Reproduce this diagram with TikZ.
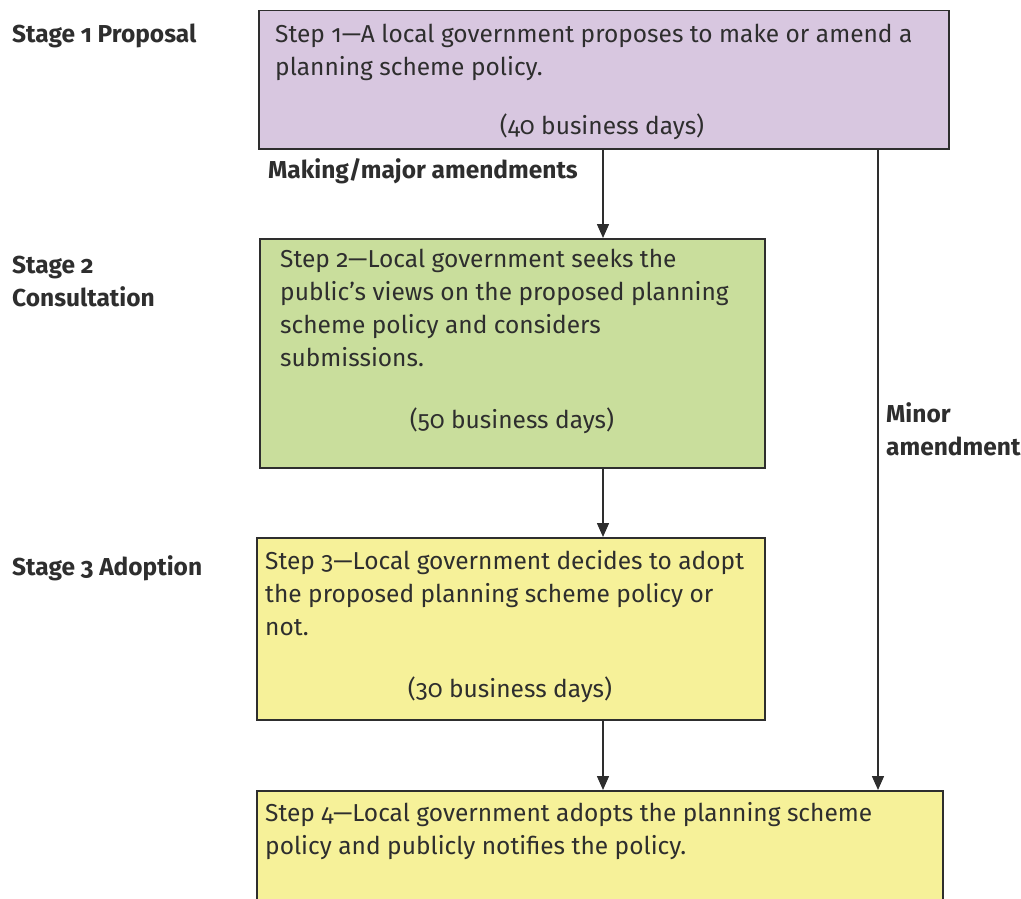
\documentclass[tikz,border=0pt]{standalone}
\usepackage{fontspec}
\setmainfont[Numbers=OldStyle]{Fira Sans}
\usetikzlibrary{arrows.meta,positioning}

\definecolor{proposalfill}{HTML}{D8C7E0}
\definecolor{consultfill}{HTML}{C9DE9C}
\definecolor{adoptfill}{HTML}{F6F199}
\definecolor{inkgray}{HTML}{2E2E2E}

\newcommand{\flowfont}{\fontsize{24.5}{33}\selectfont}

\tikzset{
  stepbox/.style={draw=inkgray, line width=1.5pt, anchor=north west, inner sep=0pt},
  steptext/.style={anchor=base west, inner sep=0pt, align=left, text=inkgray, font=\flowfont},
  daystext/.style={anchor=base, inner sep=0pt, text=inkgray, font=\flowfont},
  stagetext/.style={anchor=base west, inner sep=0pt, align=left, text=inkgray, font=\flowfont\bfseries},
  flow/.style={draw=inkgray, line width=1.5pt, -{Triangle[length=14pt,width=12pt]}}
}

\begin{document}
\begin{tikzpicture}[x=1pt,y=-1pt]
    \useasboundingbox (0,0) rectangle (1021,899);
    \clip (0,0) rectangle (1021,899);

    % stage names (base = last line)
    \node[stagetext] (stage1) at (12,43)  {Stage 1 Proposal};
    \node[stagetext] (stage2) at (12,306) {Stage 2\\Consultation};
    \node[stagetext] (stage3) at (12,575) {Stage 3 Adoption};

    % boxes
    \node[stepbox, fill=proposalfill, minimum width=690pt, minimum height=138pt] (step1) at (258,10)  {};
    \node[stepbox, fill=consultfill,  minimum width=505pt, minimum height=229pt] (step2) at (259,238) {};
    \node[stepbox, fill=adoptfill,    minimum width=508pt, minimum height=182pt] (step3) at (256,537) {};
    \node[stepbox, fill=adoptfill,    minimum width=686pt, minimum height=160pt] (step4) at (256,790) {};

    \node[steptext] (step1txt) at (275,76)  {Step 1—A local government proposes to make or amend a\\planning scheme policy.};
    \node[daystext] (step1days) at (602,135) {(40 business days)};
    \node[steptext] (step2txt) at (280,366) {Step 2—Local government seeks the\\public’s views on the proposed planning\\scheme policy and considers\\submissions.};
    \node[daystext] (step2days) at (512,428) {(50 business days)};
    \node[steptext] (step3txt) at (265,635) {Step 3—Local government decides to adopt\\the proposed planning scheme policy or\\not.};
    \node[daystext] (step3days) at (510,697) {(30 business days)};
    \node[steptext] (step4txt) at (265,854) {Step 4—Local government adopts the planning scheme\\policy and publicly notifies the policy.};

    % connectors
    \coordinate (mainline)  at (603,0);
    \coordinate (minorline) at (878,0);
    \draw[flow] (step1.south -| mainline) -- (step2.north -| mainline);
    \draw[flow] (step2.south -| mainline) -- (step3.north -| mainline);
    \draw[flow] (step3.south -| mainline) -- (step4.north -| mainline);
    \draw[flow] (step1.south -| minorline) -- (step4.north -| minorline);

    \node[stagetext] (majorlbl) at (268,178) {Making/major amendments};
    \node[stagetext] (minorlbl) at (886,455) {Minor\\amendment};
\end{tikzpicture}
\end{document}
